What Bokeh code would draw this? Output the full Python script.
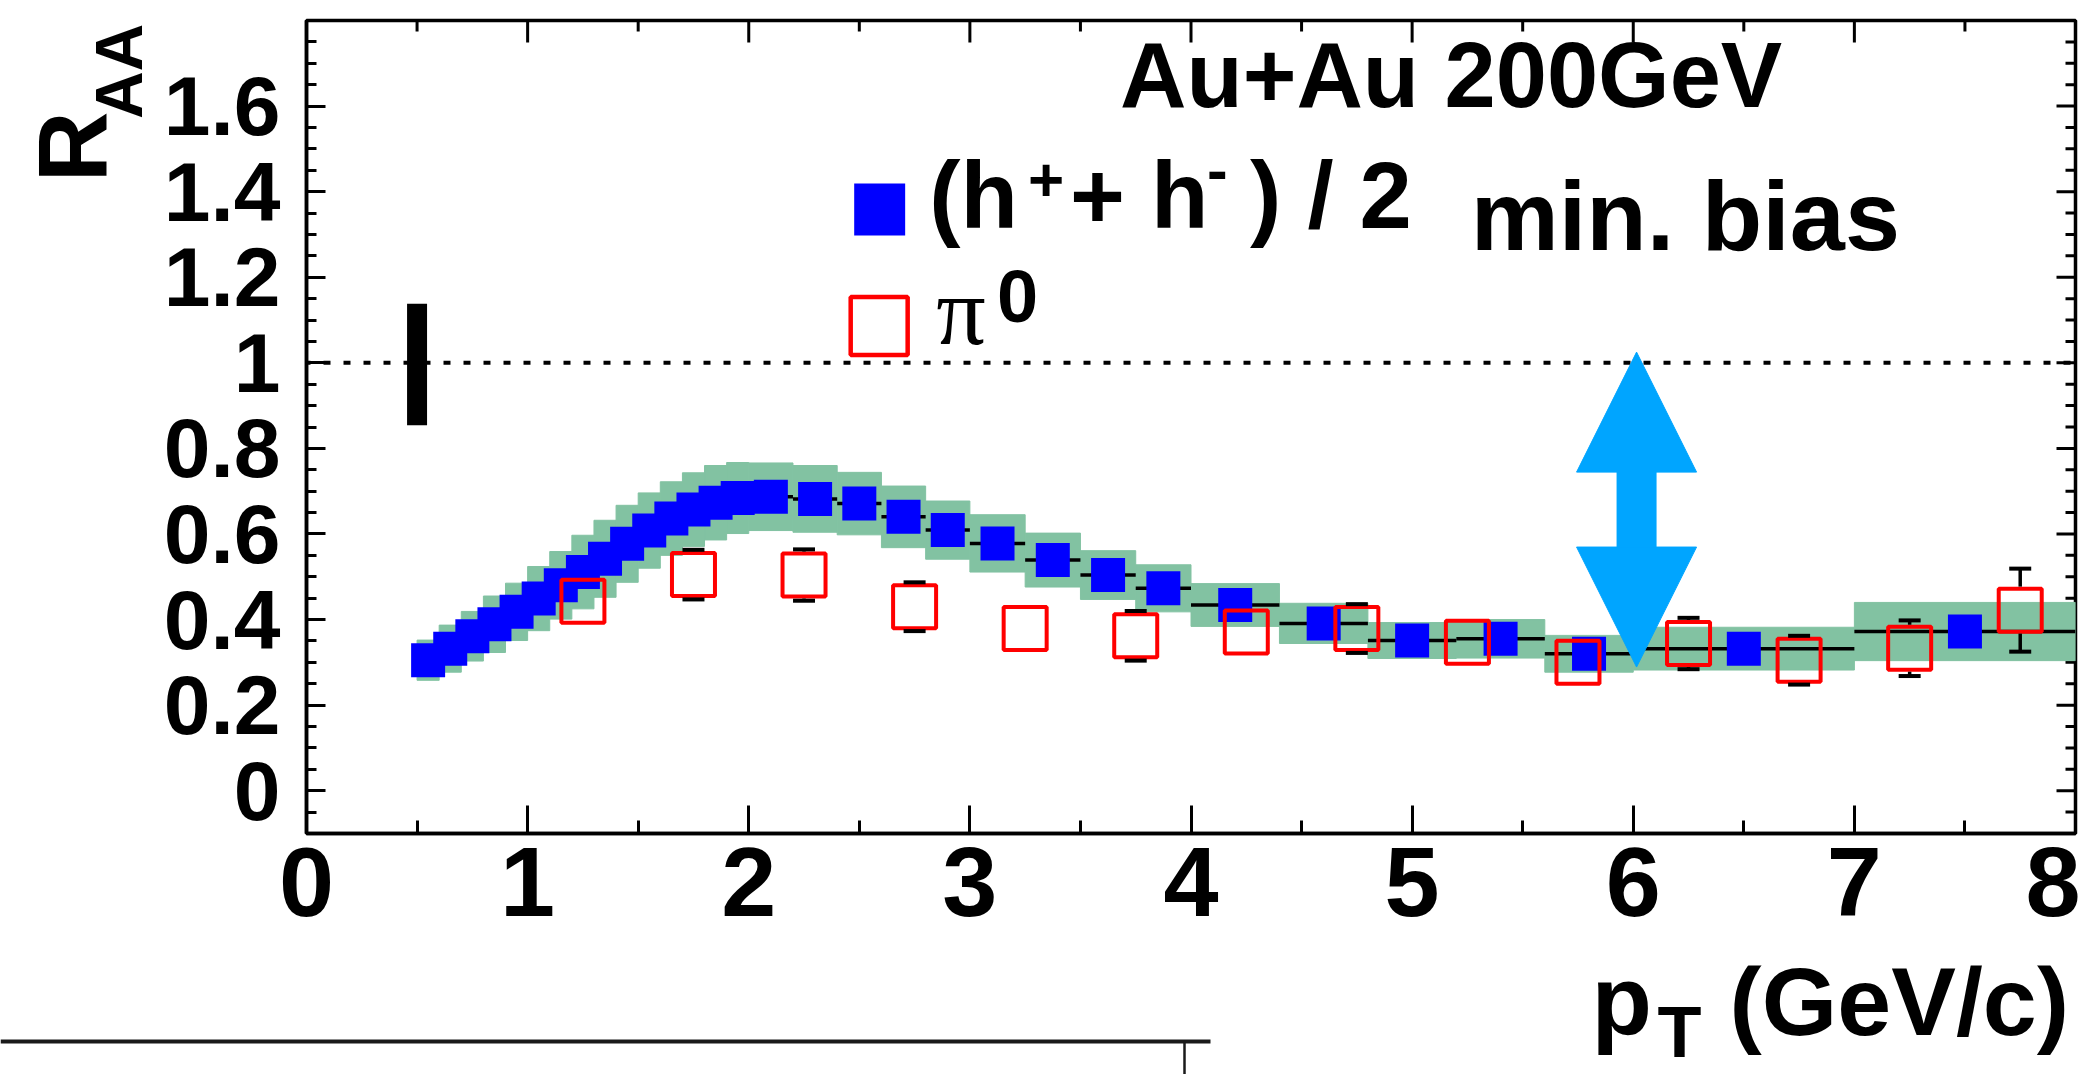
import math
from bokeh.plotting import figure
from bokeh.layouts import row, column
from bokeh.models import (ColumnDataSource, FixedTicker, Range1d, Label, Span,
                          Arrow, NormalHead, BoxAnnotation)
from bokeh.embed import file_html
from bokeh.resources import INLINE

# ---------------- data ----------------
# (h+ + h-)/2 : bin centre, bin edges, R_AA, systematic (band half height)
h_pt = [0.55, 0.65, 0.75, 0.85, 0.95, 1.05, 1.15, 1.25, 1.35, 1.45, 1.55, 1.65, 1.75, 1.85, 1.95,
        2.1, 2.3, 2.5, 2.7, 2.9, 3.125, 3.375, 3.625, 3.875, 4.2, 4.6, 5.0, 5.4, 5.8, 6.5, 7.5]
h_pt_lo = [0.5, 0.6, 0.7, 0.8, 0.9, 1.0, 1.1, 1.2, 1.3, 1.4, 1.5, 1.6, 1.7, 1.8, 1.9,
           2.0, 2.2, 2.4, 2.6, 2.8, 3.0, 3.25, 3.5, 3.75, 4.0, 4.4, 4.8, 5.2, 5.6, 6.0, 7.0]
h_pt_hi = [0.6, 0.7, 0.8, 0.9, 1.0, 1.1, 1.2, 1.3, 1.4, 1.5, 1.6, 1.7, 1.8, 1.9, 2.0,
           2.2, 2.4, 2.6, 2.8, 3.0, 3.25, 3.5, 3.75, 4.0, 4.4, 4.8, 5.2, 5.6, 6.0, 7.0, 8.0]
h_raa = [0.305, 0.332, 0.361, 0.389, 0.418, 0.449, 0.480, 0.511, 0.542, 0.577, 0.608, 0.636, 0.657, 0.673, 0.684,
         0.687, 0.682, 0.671, 0.640, 0.609, 0.578, 0.539, 0.504, 0.473, 0.434, 0.391, 0.351, 0.355, 0.320, 0.332, 0.372]
h_syst = [0.047, 0.055, 0.058, 0.066, 0.067, 0.075, 0.079, 0.086, 0.090, 0.090, 0.088, 0.086, 0.086, 0.087, 0.083,
          0.079, 0.078, 0.073, 0.072, 0.068, 0.067, 0.063, 0.057, 0.055, 0.050, 0.047, 0.042, 0.045, 0.043, 0.050, 0.068]

# pi0 : pT, R_AA, statistical error
pi_pt = [1.25, 1.75, 2.25, 2.75, 3.25, 3.75, 4.25, 4.75, 5.25, 5.75, 6.25, 6.75, 7.25, 7.75]
pi_raa = [0.443, 0.505, 0.504, 0.430, 0.379, 0.362, 0.371, 0.379, 0.347, 0.300, 0.344, 0.305, 0.333, 0.422]
pi_err = [0.040, 0.058, 0.060, 0.057, 0.035, 0.058, 0.040, 0.057, 0.040, 0.045, 0.060, 0.057, 0.065, 0.097]

# normalisation uncertainty box at R_AA = 1
norm_pt = [0.5]
norm_lo = [0.854]
norm_hi = [1.138]

# pT window arrow
arrow_pt = 6.015
arrow_lo = 0.289
arrow_hi = 1.025

# axes
x_ticks = [0, 1, 2, 3, 4, 5, 6, 7, 8]
x_minor = [0.5, 1.5, 2.5, 3.5, 4.5, 5.5, 6.5, 7.5]
y_ticks = [0, 0.2, 0.4, 0.6, 0.8, 1, 1.2, 1.4, 1.6]
y_minor = [-0.05, 0.05, 0.1, 0.15, 0.25, 0.3, 0.35, 0.45, 0.5, 0.55, 0.65, 0.7, 0.75,
           0.85, 0.9, 0.95, 1.05, 1.1, 1.15, 1.25, 1.3, 1.35, 1.45, 1.5, 1.55, 1.65, 1.7, 1.75]

# ---------------- layout (page pixels) ----------------
W, H = 2080, 1074
LW = 160          # strip left of the main figure (y title)
MH = 965          # height of the main figure; below it a strip with the x title
FL, FR, FT, FB = 305, 2075, 20, 833
X_MIN, X_MAX = 0.0, 8.0
Y_MIN, Y_MAX = -0.1, 1.8
PX_X = (FR - FL) / (X_MAX - X_MIN)   # pixels per x unit
PX_Y = (FB - FT) / (Y_MAX - Y_MIN)   # pixels per y unit
BASE = 0.37       # compensation of label baseline placement (fraction of font size)

def dx(px):
    return X_MIN + (px - FL) / PX_X

def dy(py):
    return Y_MAX - (py - FT) / PX_Y

GREEN = "#82C2A2"
BLUE = "#0000FF"
RED = "#FF0000"
ARROW = "#00A5FF"
FONT = "Liberation Sans"
SERIF = "Liberation Serif"

p = figure(width=W - LW, height=MH, x_range=Range1d(X_MIN, X_MAX), y_range=Range1d(Y_MIN, Y_MAX),
           output_backend="svg", toolbar_location=None,
           min_border_left=FL - LW, min_border_right=W - FR, min_border_top=FT, min_border_bottom=MH - FB,
           outline_line_color="black", outline_line_width=3.5)
p.xgrid.visible = False
p.ygrid.visible = False

def style_axis(ax, major_in, minor_in):
    ax.axis_line_color = "black"
    ax.axis_line_width = 3.5
    ax.major_tick_in = major_in
    ax.major_tick_out = 0
    ax.minor_tick_in = minor_in
    ax.minor_tick_out = 0
    ax.major_tick_line_width = 3
    ax.minor_tick_line_width = 3
    ax.major_tick_line_color = "black"
    ax.minor_tick_line_color = "black"

xa = p.xaxis[0]
xa.ticker = FixedTicker(ticks=x_ticks, minor_ticks=x_minor)
style_axis(xa, 28, 13)
xa.major_label_text_font = FONT
xa.major_label_text_font_style = "bold"
xa.major_label_text_font_size = "99px"
xa.major_label_text_color = "black"
xa.major_label_standoff = 14

ya = p.yaxis[0]
ya.ticker = FixedTicker(ticks=y_ticks, minor_ticks=y_minor)
style_axis(ya, 19, 10)
ya.major_label_text_font = FONT
ya.major_label_text_font_style = "bold"
ya.major_label_text_font_size = "84px"
ya.major_label_text_color = "black"
ya.major_label_standoff = 26

# mirrored tick marks on the top and right frame edges
top_major = ColumnDataSource(dict(x=x_ticks, y0=[Y_MAX] * len(x_ticks), y1=[Y_MAX - 22 / PX_Y] * len(x_ticks)))
top_minor = ColumnDataSource(dict(x=x_minor, y0=[Y_MAX] * len(x_minor), y1=[Y_MAX - 11 / PX_Y] * len(x_minor)))
p.segment(x0="x", y0="y0", x1="x", y1="y1", source=top_major, line_color="black", line_width=3)
p.segment(x0="x", y0="y0", x1="x", y1="y1", source=top_minor, line_color="black", line_width=3)
r_major = ColumnDataSource(dict(y=y_ticks, x0=[X_MAX] * len(y_ticks), x1=[X_MAX - 19 / PX_X] * len(y_ticks)))
r_minor = ColumnDataSource(dict(y=y_minor, x0=[X_MAX] * len(y_minor), x1=[X_MAX - 10 / PX_X] * len(y_minor)))
p.segment(x0="x0", y0="y", x1="x1", y1="y", source=r_major, line_color="black", line_width=3)
p.segment(x0="x0", y0="y", x1="x1", y1="y", source=r_minor, line_color="black", line_width=3)

# ---------------- glyphs ----------------
hsrc = ColumnDataSource(dict(pt=h_pt, lo=h_pt_lo, hi=h_pt_hi, raa=h_raa,
                             bot=[r - s for r, s in zip(h_raa, h_syst)],
                             top=[r + s for r, s in zip(h_raa, h_syst)]))
p.quad(left="lo", right="hi", bottom="bot", top="top", source=hsrc,
       fill_color=GREEN, line_color=GREEN, line_width=1)
p.segment(x0="lo", y0="raa", x1="hi", y1="raa", source=hsrc, line_color="black", line_width=3.5)
p.scatter(x="pt", y="raa", source=hsrc, marker="square", size=34, fill_color=BLUE, line_color=None)

pisrc = ColumnDataSource(dict(pt=pi_pt, raa=pi_raa))
p.scatter(x="pt", y="raa", source=pisrc, marker="square", size=43, fill_color=None,
          line_color=RED, line_width=4)

# statistical error bars of pi0 drawn outside the open marker (ROOT style)
half = 23.5 / PX_Y
sel = [i for i in range(len(pi_pt)) if pi_err[i] > half]
bar_src = ColumnDataSource(dict(
    x=[pi_pt[i] for i in sel] * 2,
    y0=[pi_raa[i] + half for i in sel] + [pi_raa[i] - half for i in sel],
    y1=[pi_raa[i] + pi_err[i] for i in sel] + [pi_raa[i] - pi_err[i] for i in sel],
))
p.segment(x0="x", y0="y0", x1="x", y1="y1", source=bar_src, line_color="black", line_width=3.5)
p.rect(x="x", y="y1", width=22, height=4, width_units="screen", height_units="screen",
       source=bar_src, fill_color="black", line_color=None)

# normalisation box
p.vbar(x=norm_pt, width=20 / PX_X, bottom=norm_lo, top=norm_hi,
       fill_color="black", line_color=None)

# R_AA = 1 dotted line
p.add_layout(Span(location=1, dimension="width", line_color="black", line_width=4,
                  line_dash="7 13", line_dash_offset=3))

# blue double arrow
p.add_layout(Arrow(x_start=arrow_pt, y_start=arrow_lo, x_end=arrow_pt, y_end=arrow_hi,
                   line_color=ARROW, line_width=40,
                   start=NormalHead(size=120, fill_color=ARROW, line_color=ARROW, line_width=1),
                   end=NormalHead(size=120, fill_color=ARROW, line_color=ARROW, line_width=1)))

# legend keys
p.add_layout(BoxAnnotation(left=dx(853), right=dx(904), top=dy(183), bottom=dy(235),
                           fill_color=BLUE, fill_alpha=1, line_color=None))
p.add_layout(BoxAnnotation(left=dx(849.5), right=dx(906.5), top=dy(296.5), bottom=dy(354.5),
                           fill_alpha=0, line_color=RED, line_alpha=1, line_width=4.5))

# ---------------- texts ----------------
def label(fig, text, x, y, size, font=FONT, style="bold", angle=0.0):
    fig.add_layout(Label(x=x, y=y, text=text, text_font=font, text_font_style=style,
                         text_font_size=f"{size}px", text_color="black", text_align="left",
                         text_baseline="alphabetic", angle=angle))

def main_label(text, px, py, size, **kw):
    label(p, text, dx(px), dy(py - BASE * size), size, **kw)

main_label("Au+Au 200GeV", 1119, 109, 92)
main_label("min. bias", 1470, 252, 99)
main_label("(h", 928, 230, 94)
main_label("+", 1027, 202, 62)
main_label("+ h", 1069, 230, 94)
main_label("-", 1206, 192, 62)
main_label(") / 2", 1249, 230, 94)
main_label("\u03c0", 935, 347, 98, font=SERIF, style="normal")
main_label("0", 996, 323, 74)

def strip(width, height, x0, y0):
    f = figure(width=width, height=height, x_range=Range1d(x0, x0 + width),
               y_range=Range1d(y0 + height, y0), x_axis_type=None, y_axis_type=None,
               output_backend="svg", toolbar_location=None, min_border=0,
               outline_line_color=None)
    f.xgrid.visible = False
    f.ygrid.visible = False
    return f

# y title strip (page coordinates)
left = strip(LW, MH, 0, 0)
label(left, "R", 109 - BASE * 98, 192, 98, angle=math.pi / 2)
label(left, "AA", 143 - BASE * 66, 117, 66, angle=math.pi / 2)

# x title strip (page coordinates)
bottom = strip(W, H - MH, 0, MH)
label(bottom, "p", 1591, 1037 - BASE * 99, 99)
label(bottom, "T", 1657, 1058 - BASE * 72, 72)
label(bottom, "(GeV/c)", 1729, 1037 - BASE * 97, 97)
# top edge of the (cropped) panel below
edge_src = ColumnDataSource(dict(x0=[0, 1184], y0=[1041, 1041], x1=[1210, 1184], y1=[1041, 1080],
                                 w=[4, 2.5]))
bottom.segment(x0="x0", y0="y0", x1="x1", y1="y1", line_width="w", source=edge_src,
               line_color="#1a1a1a")

layout = column(row(left, p), bottom)
open("out.html", "w").write(file_html(layout, INLINE))
